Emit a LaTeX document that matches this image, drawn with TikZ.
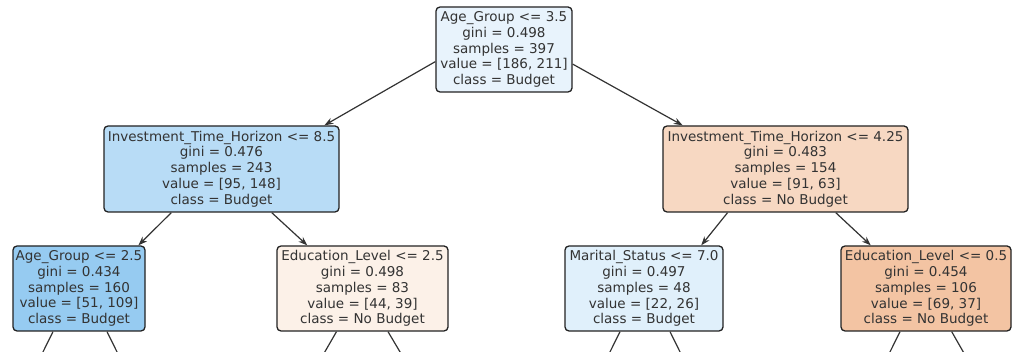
\documentclass[tikz,border=0pt]{standalone}
\usepackage{fontspec}
\setmainfont{DejaVu Sans}
\usetikzlibrary{arrows.meta,calc}
\definecolor{ink}{HTML}{333333}
\definecolor{edge}{HTML}{222222}
\definecolor{c0}{RGB}{232,243,252}
\definecolor{c1}{RGB}{184,220,246}
\definecolor{c2}{RGB}{247,216,194}
\definecolor{c3}{RGB}{150,203,241}
\definecolor{c4}{RGB}{252,241,232}
\definecolor{c5}{RGB}{224,240,251}
\definecolor{c6}{RGB}{243,196,163}
\tikzset{
  treenode/.style={draw=edge, line width=1.3pt, rounded corners=4pt, inner sep=0pt,
    align=center, text=ink, font=\fontsize{13.5}{15.8}\selectfont},
  arr/.style={draw=ink, line width=1.2pt, -{Stealth[length=9pt,width=6.5pt]}},
  ln/.style={draw=ink, line width=1.2pt}
}
\begin{document}
\begin{tikzpicture}[x=1pt,y=-1pt]
\useasboundingbox (0,0) rectangle (1015,352);
\clip (0,0) rectangle (1015,352);
\node[treenode, fill=c0, minimum width=136pt, minimum height=85pt] (root) at (504,49.5)
  {Age\_Group <= 3.5\\gini = 0.498\\samples = 397\\value = [186, 211]\\class = Budget};
\node[treenode, fill=c1, minimum width=235pt, minimum height=86pt] (l) at (221.5,169)
  {Investment\_Time\_Horizon <= 8.5\\gini = 0.476\\samples = 243\\value = [95, 148]\\class = Budget};
\node[treenode, fill=c2, minimum width=245pt, minimum height=86pt] (r) at (785.5,169)
  {Investment\_Time\_Horizon <= 4.25\\gini = 0.483\\samples = 154\\value = [91, 63]\\class = No Budget};
\node[treenode, fill=c3, minimum width=132pt, minimum height=85pt] (ll) at (79,288.5)
  {Age\_Group <= 2.5\\gini = 0.434\\samples = 160\\value = [51, 109]\\class = Budget};
\node[treenode, fill=c4, minimum width=171pt, minimum height=85pt] (lr) at (362.5,288.5)
  {Education\_Level <= 2.5\\gini = 0.498\\samples = 83\\value = [44, 39]\\class = No Budget};
\node[treenode, fill=c5, minimum width=158pt, minimum height=85pt] (rl) at (644,288.5)
  {Marital\_Status <= 7.0\\gini = 0.497\\samples = 48\\value = [22, 26]\\class = Budget};
\node[treenode, fill=c6, minimum width=170pt, minimum height=85pt] (rr) at (926,288.5)
  {Education\_Level <= 0.5\\gini = 0.454\\samples = 106\\value = [69, 37]\\class = No Budget};

\draw[arr] (root.190.4) -- (l.23);
\draw[arr] (root.348.8) -- (r.157.8);
\draw[arr] (l.221) -- (ll.36.2);
\draw[arr] (l.319.6) -- (lr.142.6);
\draw[arr] (r.217.8) -- (rl.37.2);
\draw[arr] (r.319) -- (rr.142.8);

\coordinate (ll1) at (38,362);
\coordinate (ll2) at (122,362);
\coordinate (lr1) at (319,362);
\coordinate (lr2) at (406,362);
\coordinate (rl1) at (605,362);
\coordinate (rl2) at (685,362);
\coordinate (rr1) at (885,362);
\coordinate (rr2) at (969,362);
\draw[ln] ($(ll.south)+(-26,0)$) -- (ll1);
\draw[ln] ($(ll.south)+(28,0)$) -- (ll2);
\draw[ln] ($(lr.south)+(-26,0)$) -- (lr1);
\draw[ln] ($(lr.south)+(25.5,0)$) -- (lr2);
\draw[ln] ($(rl.south)+(-24,0)$) -- (rl1);
\draw[ln] ($(rl.south)+(26,0)$) -- (rl2);
\draw[ln] ($(rr.south)+(-26,0)$) -- (rr1);
\draw[ln] ($(rr.south)+(25.7,0)$) -- (rr2);
\end{tikzpicture}
\end{document}
